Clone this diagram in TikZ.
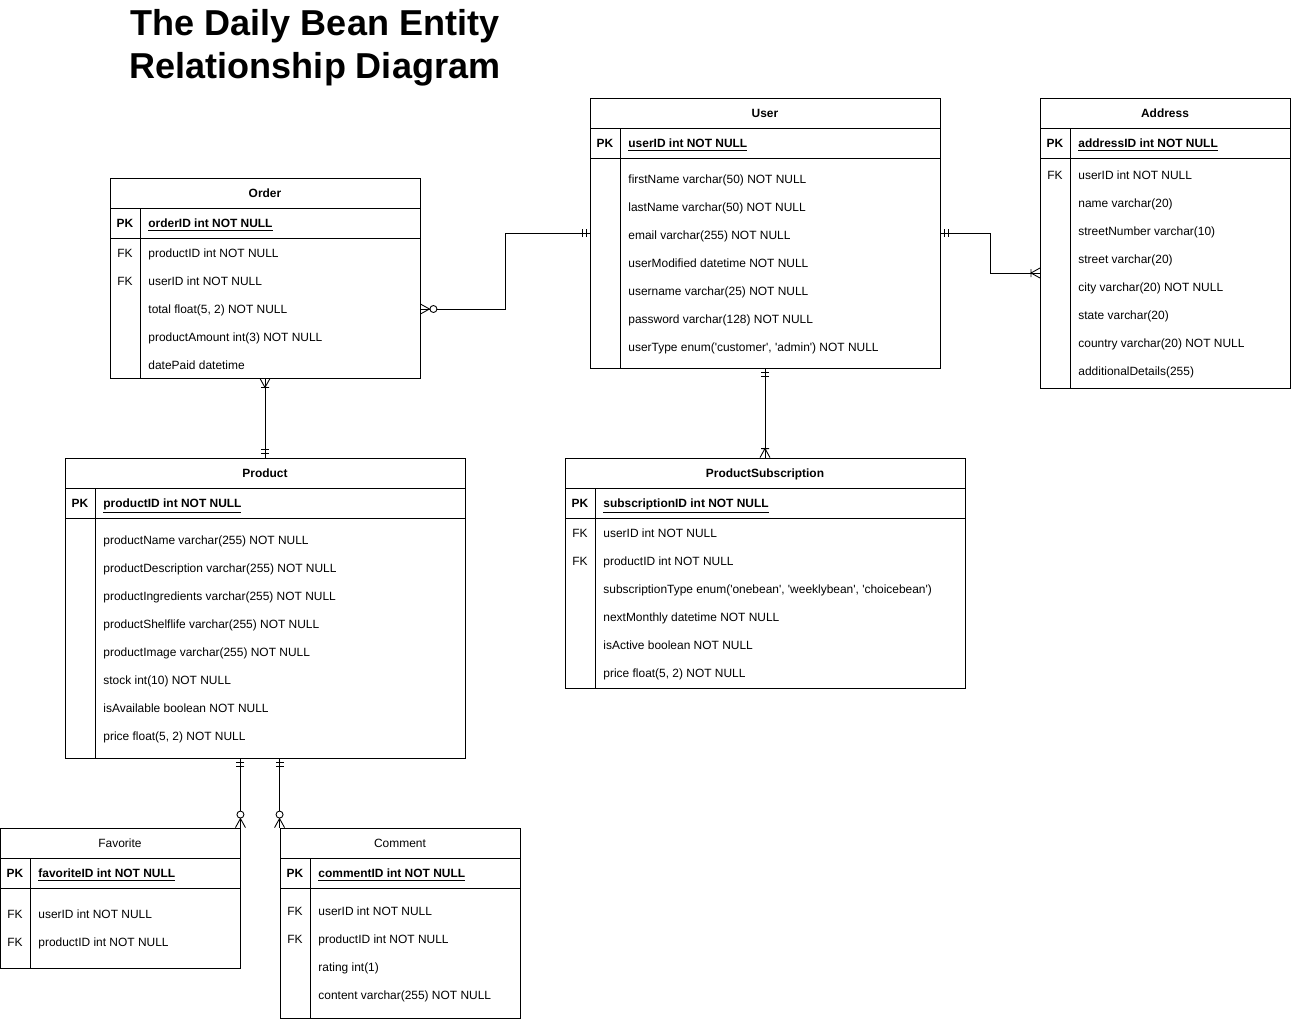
\documentclass[tikz,border=0pt]{standalone}
\usepackage{fontspec}
\setmainfont{Liberation Sans}
\usetikzlibrary{fit}

\tikzset{
  tblbox/.style={draw, line width=0.5pt, inner sep=0pt},
  celltxt/.style={inner sep=0pt, text height=4.87pt, text depth=0pt,
    font=\fontsize{6.8pt}{8.2pt}\selectfont},
  tblname/.style={celltxt, font=\fontsize{6.8pt}{8.2pt}\selectfont\bfseries},
  tblplain/.style={celltxt},
  pkkey/.style={celltxt, font=\fontsize{6.8pt}{8.2pt}\selectfont\bfseries},
  fkkey/.style={celltxt},
  pktxt/.style={celltxt, anchor=west, font=\fontsize{6.8pt}{8.2pt}\selectfont\bfseries},
  fieldtxt/.style={celltxt, anchor=west},
  titletxt/.style={inner sep=0pt, align=center,
    font=\fontsize{20.5pt}{24.6pt}\selectfont\bfseries},
}

% crow's foot end marks, drawn at an end point, angle = direction of the line
\newcommand{\erMandOne}[2]{%
  \begin{scope}[shift={(#1)}, rotate=#2]
    \draw (4,-4) -- (4,4) (8,-4) -- (8,4);
  \end{scope}}
\newcommand{\erOneMany}[2]{%
  \begin{scope}[shift={(#1)}, rotate=#2]
    \draw (0,-5) -- (9,0) -- (0,5) (9,-4) -- (9,4);
  \end{scope}}
\newcommand{\erZeroMany}[2]{%
  \begin{scope}[shift={(#1)}, rotate=#2]
    \draw (0,-5) -- (9,0) -- (0,5);
    \draw[fill=white] (13,0) circle[radius=3.5];
  \end{scope}}

\begin{document}
\begin{tikzpicture}[x=0.02cm, y=-0.02cm, line width=0.5pt]
    \useasboundingbox (0,0) rectangle (1291,1019);

    \node[titletxt] (title) at (315,47.5)
        {The Daily Bean Entity\\Relationship Diagram};

    % Order
    \node[tblbox, fit={(110,178) (420,378)}] (order) {};
    \draw (110,208) -- (420,208) (110,238) -- (420,238) (140,208) -- (140,378);
    \node[tblname] (ord-name) at (265,193) {Order};
    \node[pkkey] (ord-pkkey) at (125,223) {PK};
    \node[pktxt] (ord-pk) at (148,223) {\underline{orderID int NOT NULL}};
    \node[fkkey] (ord-fk1) at (125,253) {FK};
    \node[fkkey] (ord-fk2) at (125,281) {FK};
    \foreach \t [count=\i] in {productID int NOT NULL, userID int NOT NULL,
        {total float(5, 2) NOT NULL}, productAmount int(3) NOT NULL, datePaid datetime}
        \node[fieldtxt] (ord-\i) at (148,{253+28*(\i-1)}) {\t};

    % User
    \node[tblbox, fit={(590,98) (940,368)}] (user) {};
    \draw (590,128) -- (940,128) (590,158) -- (940,158) (620,128) -- (620,368);
    \node[tblname] (usr-name) at (765,113) {User};
    \node[pkkey] (usr-pkkey) at (605,143) {PK};
    \node[pktxt] (usr-pk) at (628,143) {\underline{userID int NOT NULL}};
    \foreach \t [count=\i] in {firstName varchar(50) NOT NULL, lastName varchar(50) NOT NULL,
        email varchar(255) NOT NULL, userModified datetime NOT NULL,
        username varchar(25) NOT NULL, password varchar(128) NOT NULL,
        {userType enum(\textquotesingle customer\textquotesingle, \textquotesingle admin\textquotesingle) NOT NULL}}
        \node[fieldtxt] (usr-\i) at (628,{179+28*(\i-1)}) {\t};
    \coordinate (usr-link) at (590,233);

    % Address
    \node[tblbox, fit={(1040,98) (1290,388)}] (address) {};
    \draw (1040,128) -- (1290,128) (1040,158) -- (1290,158) (1070,128) -- (1070,388);
    \node[tblname] (addr-name) at (1165,113) {Address};
    \node[pkkey] (addr-pkkey) at (1055,143) {PK};
    \node[pktxt] (addr-pk) at (1078,143) {\underline{addressID int NOT NULL}};
    \node[fkkey] (addr-fk1) at (1055,175) {FK};
    \foreach \t [count=\i] in {userID int NOT NULL, name varchar(20), streetNumber varchar(10),
        street varchar(20), city varchar(20) NOT NULL, state varchar(20),
        country varchar(20) NOT NULL, additionalDetails(255)}
        \node[fieldtxt] (addr-\i) at (1078,{175+28*(\i-1)}) {\t};
    \coordinate (addr-in) at (1040,273);

    % Product
    \node[tblbox, fit={(65,458) (465,758)}] (product) {};
    \draw (65,488) -- (465,488) (65,518) -- (465,518) (95,488) -- (95,758);
    \node[tblname] (prod-name) at (265,473) {Product};
    \node[pkkey] (prod-pkkey) at (80,503) {PK};
    \node[pktxt] (prod-pk) at (103,503) {\underline{productID int NOT NULL}};
    \foreach \t [count=\i] in {productName varchar(255) NOT NULL,
        productDescription varchar(255) NOT NULL, productIngredients varchar(255) NOT NULL,
        productShelflife varchar(255) NOT NULL, productImage varchar(255) NOT NULL,
        stock int(10) NOT NULL, isAvailable boolean NOT NULL, {price float(5, 2) NOT NULL}}
        \node[fieldtxt] (prod-\i) at (103,{540+28*(\i-1)}) {\t};

    % ProductSubscription
    \node[tblbox, fit={(565,458) (965,688)}] (subscr) {};
    \draw (565,488) -- (965,488) (565,518) -- (965,518) (595,488) -- (595,688);
    \node[tblname] (sub-name) at (765,473) {ProductSubscription};
    \node[pkkey] (sub-pkkey) at (580,503) {PK};
    \node[pktxt] (sub-pk) at (603,503) {\underline{subscriptionID int NOT NULL}};
    \node[fkkey] (sub-fk1) at (580,533) {FK};
    \node[fkkey] (sub-fk2) at (580,561) {FK};
    \foreach \t [count=\i] in {userID int NOT NULL, productID int NOT NULL,
        {subscriptionType enum(\textquotesingle onebean\textquotesingle, \textquotesingle weeklybean\textquotesingle, \textquotesingle choicebean\textquotesingle)},
        nextMonthly datetime NOT NULL, isActive boolean NOT NULL, {price float(5, 2) NOT NULL}}
        \node[fieldtxt] (sub-\i) at (603,{533+28*(\i-1)}) {\t};

    % Favorite
    \node[tblbox, fit={(0.5,828) (240,968)}] (favorite) {};
    \draw (0.5,858) -- (240,858) (0.5,888) -- (240,888) (30,858) -- (30,968);
    \node[tblplain] (fav-name) at (120,843) {Favorite};
    \node[pkkey] (fav-pkkey) at (15,873) {PK};
    \node[pktxt] (fav-pk) at (38,873) {\underline{favoriteID int NOT NULL}};
    \node[fkkey] (fav-fk1) at (15,914) {FK};
    \node[fkkey] (fav-fk2) at (15,942) {FK};
    \node[fieldtxt] (fav-1) at (38,914) {userID int NOT NULL};
    \node[fieldtxt] (fav-2) at (38,942) {productID int NOT NULL};

    % Comment
    \node[tblbox, fit={(280,828) (520,1018)}] (comment) {};
    \draw (280,858) -- (520,858) (280,888) -- (520,888) (310,858) -- (310,1018);
    \node[tblplain] (com-name) at (400,843) {Comment};
    \node[pkkey] (com-pkkey) at (295,873) {PK};
    \node[pktxt] (com-pk) at (318,873) {\underline{commentID int NOT NULL}};
    \node[fkkey] (com-fk1) at (295,911) {FK};
    \node[fkkey] (com-fk2) at (295,939) {FK};
    \foreach \t [count=\i] in {userID int NOT NULL, productID int NOT NULL, rating int(1),
        content varchar(255) NOT NULL}
        \node[fieldtxt] (com-\i) at (318,{911+28*(\i-1)}) {\t};

    % relationships
    \coordinate (ou-bend) at (505,0);
    \coordinate (ua-bend) at (990,0);
    \draw (order.east |- ord-3) -- (ord-3 -| ou-bend) -- (usr-link -| ou-bend) -- (usr-link);
    \draw (user.east |- usr-link) -- (usr-link -| ua-bend) -- (addr-in -| ua-bend) -- (addr-in);
    \draw (order.south) -- (product.north);
    \draw (user.south) -- (subscr.north);
    \draw (product.south -| favorite.north east) -- (favorite.north east);
    \draw (product.south -| comment.north west) -- (comment.north west);

    \erZeroMany{order.east |- ord-3}{0}
    \erMandOne{usr-link}{180}
    \erMandOne{user.east |- usr-link}{0}
    \erOneMany{addr-in}{180}
    \erOneMany{order.south}{-90}
    \erMandOne{product.north}{90}
    \erMandOne{user.south}{-90}
    \erOneMany{subscr.north}{90}
    \erMandOne{product.south -| favorite.north east}{-90}
    \erZeroMany{favorite.north east}{90}
    \erMandOne{product.south -| comment.north west}{-90}
    \erZeroMany{comment.north west}{90}
\end{tikzpicture}
\end{document}
